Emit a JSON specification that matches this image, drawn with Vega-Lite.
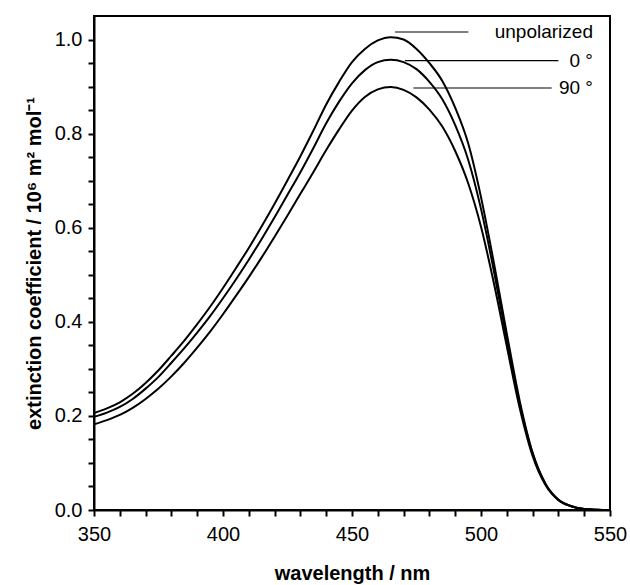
{
  "$schema": "https://vega.github.io/schema/vega-lite/v6.json",
  "width": 516,
  "height": 494,
  "autosize": "none",
  "padding": {"left": 94, "top": 16, "right": 20, "bottom": 75},
  "background": "white",
  "config": {
    "view": {"stroke": "black", "strokeWidth": 2},
    "font": "Liberation Sans",
    "axis": {
      "grid": false,
      "domainColor": "black",
      "domainWidth": 2,
      "tickColor": "black",
      "tickWidth": 2,
      "tickSize": 6,
      "labelColor": "black",
      "labelFont": "Liberation Sans",
      "labelFontSize": 20,
      "labelOverlap": false,
      "labelFlush": false,
      "titleColor": "black",
      "titleFont": "Liberation Sans",
      "titleFontSize": 20,
      "titleFontWeight": "bold"
    }
  },
  "datasets": {
    "curves": [
      {"wl": 350, "e": 0.206, "s": "unpolarized"},
      {"wl": 355, "e": 0.216, "s": "unpolarized"},
      {"wl": 360, "e": 0.229, "s": "unpolarized"},
      {"wl": 365, "e": 0.247, "s": "unpolarized"},
      {"wl": 370, "e": 0.27, "s": "unpolarized"},
      {"wl": 375, "e": 0.297, "s": "unpolarized"},
      {"wl": 380, "e": 0.328, "s": "unpolarized"},
      {"wl": 385, "e": 0.36, "s": "unpolarized"},
      {"wl": 390, "e": 0.395, "s": "unpolarized"},
      {"wl": 395, "e": 0.432, "s": "unpolarized"},
      {"wl": 400, "e": 0.472, "s": "unpolarized"},
      {"wl": 405, "e": 0.514, "s": "unpolarized"},
      {"wl": 410, "e": 0.557, "s": "unpolarized"},
      {"wl": 415, "e": 0.603, "s": "unpolarized"},
      {"wl": 420, "e": 0.651, "s": "unpolarized"},
      {"wl": 425, "e": 0.701, "s": "unpolarized"},
      {"wl": 430, "e": 0.752, "s": "unpolarized"},
      {"wl": 435, "e": 0.806, "s": "unpolarized"},
      {"wl": 440, "e": 0.862, "s": "unpolarized"},
      {"wl": 445, "e": 0.91, "s": "unpolarized"},
      {"wl": 450, "e": 0.952, "s": "unpolarized"},
      {"wl": 455, "e": 0.98, "s": "unpolarized"},
      {"wl": 460, "e": 0.998, "s": "unpolarized"},
      {"wl": 465, "e": 1.005, "s": "unpolarized"},
      {"wl": 470, "e": 1.0, "s": "unpolarized"},
      {"wl": 475, "e": 0.98, "s": "unpolarized"},
      {"wl": 480, "e": 0.95, "s": "unpolarized"},
      {"wl": 485, "e": 0.912, "s": "unpolarized"},
      {"wl": 490, "e": 0.855, "s": "unpolarized"},
      {"wl": 495, "e": 0.78, "s": "unpolarized"},
      {"wl": 500, "e": 0.665, "s": "unpolarized"},
      {"wl": 505, "e": 0.525, "s": "unpolarized"},
      {"wl": 510, "e": 0.375, "s": "unpolarized"},
      {"wl": 515, "e": 0.232, "s": "unpolarized"},
      {"wl": 520, "e": 0.122, "s": "unpolarized"},
      {"wl": 525, "e": 0.056, "s": "unpolarized"},
      {"wl": 530, "e": 0.022, "s": "unpolarized"},
      {"wl": 535, "e": 0.008, "s": "unpolarized"},
      {"wl": 540, "e": 0.002, "s": "unpolarized"},
      {"wl": 545, "e": 0.0005, "s": "unpolarized"},
      {"wl": 550, "e": 0.0, "s": "unpolarized"},
      {"wl": 350, "e": 0.198, "s": "0"},
      {"wl": 355, "e": 0.207, "s": "0"},
      {"wl": 360, "e": 0.219, "s": "0"},
      {"wl": 365, "e": 0.236, "s": "0"},
      {"wl": 370, "e": 0.258, "s": "0"},
      {"wl": 375, "e": 0.283, "s": "0"},
      {"wl": 380, "e": 0.313, "s": "0"},
      {"wl": 385, "e": 0.344, "s": "0"},
      {"wl": 390, "e": 0.377, "s": "0"},
      {"wl": 395, "e": 0.412, "s": "0"},
      {"wl": 400, "e": 0.45, "s": "0"},
      {"wl": 405, "e": 0.49, "s": "0"},
      {"wl": 410, "e": 0.532, "s": "0"},
      {"wl": 415, "e": 0.576, "s": "0"},
      {"wl": 420, "e": 0.622, "s": "0"},
      {"wl": 425, "e": 0.67, "s": "0"},
      {"wl": 430, "e": 0.718, "s": "0"},
      {"wl": 435, "e": 0.769, "s": "0"},
      {"wl": 440, "e": 0.822, "s": "0"},
      {"wl": 445, "e": 0.868, "s": "0"},
      {"wl": 450, "e": 0.907, "s": "0"},
      {"wl": 455, "e": 0.935, "s": "0"},
      {"wl": 460, "e": 0.952, "s": "0"},
      {"wl": 465, "e": 0.957, "s": "0"},
      {"wl": 470, "e": 0.952, "s": "0"},
      {"wl": 475, "e": 0.937, "s": "0"},
      {"wl": 480, "e": 0.91, "s": "0"},
      {"wl": 485, "e": 0.873, "s": "0"},
      {"wl": 490, "e": 0.818, "s": "0"},
      {"wl": 495, "e": 0.745, "s": "0"},
      {"wl": 500, "e": 0.64, "s": "0"},
      {"wl": 505, "e": 0.508, "s": "0"},
      {"wl": 510, "e": 0.362, "s": "0"},
      {"wl": 515, "e": 0.225, "s": "0"},
      {"wl": 520, "e": 0.12, "s": "0"},
      {"wl": 525, "e": 0.055, "s": "0"},
      {"wl": 530, "e": 0.022, "s": "0"},
      {"wl": 535, "e": 0.008, "s": "0"},
      {"wl": 540, "e": 0.002, "s": "0"},
      {"wl": 545, "e": 0.0005, "s": "0"},
      {"wl": 550, "e": 0.0, "s": "0"},
      {"wl": 350, "e": 0.182, "s": "90"},
      {"wl": 355, "e": 0.191, "s": "90"},
      {"wl": 360, "e": 0.202, "s": "90"},
      {"wl": 365, "e": 0.217, "s": "90"},
      {"wl": 370, "e": 0.236, "s": "90"},
      {"wl": 375, "e": 0.258, "s": "90"},
      {"wl": 380, "e": 0.284, "s": "90"},
      {"wl": 385, "e": 0.313, "s": "90"},
      {"wl": 390, "e": 0.345, "s": "90"},
      {"wl": 395, "e": 0.379, "s": "90"},
      {"wl": 400, "e": 0.416, "s": "90"},
      {"wl": 405, "e": 0.455, "s": "90"},
      {"wl": 410, "e": 0.495, "s": "90"},
      {"wl": 415, "e": 0.537, "s": "90"},
      {"wl": 420, "e": 0.581, "s": "90"},
      {"wl": 425, "e": 0.626, "s": "90"},
      {"wl": 430, "e": 0.672, "s": "90"},
      {"wl": 435, "e": 0.718, "s": "90"},
      {"wl": 440, "e": 0.765, "s": "90"},
      {"wl": 445, "e": 0.809, "s": "90"},
      {"wl": 450, "e": 0.849, "s": "90"},
      {"wl": 455, "e": 0.878, "s": "90"},
      {"wl": 460, "e": 0.894, "s": "90"},
      {"wl": 465, "e": 0.899, "s": "90"},
      {"wl": 470, "e": 0.893, "s": "90"},
      {"wl": 475, "e": 0.877, "s": "90"},
      {"wl": 480, "e": 0.851, "s": "90"},
      {"wl": 485, "e": 0.815, "s": "90"},
      {"wl": 490, "e": 0.763, "s": "90"},
      {"wl": 495, "e": 0.695, "s": "90"},
      {"wl": 500, "e": 0.602, "s": "90"},
      {"wl": 505, "e": 0.482, "s": "90"},
      {"wl": 510, "e": 0.348, "s": "90"},
      {"wl": 515, "e": 0.217, "s": "90"},
      {"wl": 520, "e": 0.115, "s": "90"},
      {"wl": 525, "e": 0.053, "s": "90"},
      {"wl": 530, "e": 0.021, "s": "90"},
      {"wl": 535, "e": 0.008, "s": "90"},
      {"wl": 540, "e": 0.002, "s": "90"},
      {"wl": 545, "e": 0.0005, "s": "90"},
      {"wl": 550, "e": 0.0, "s": "90"}
    ],
    "labels": [
      {"label": "unpolarized", "start": 466.7, "end": 495.1, "level": 1.016, "anchor": 543.4},
      {"label": "0 °", "start": 470.5, "end": 530.0, "level": 0.955, "anchor": 543.4},
      {"label": "90 °", "start": 473.8, "end": 527.4, "level": 0.897, "anchor": 543.4}
    ]
  },
  "layer": [
    {
      "data": {"name": "curves"},
      "mark": {"type": "line", "color": "black", "strokeWidth": 2, "interpolate": "monotone", "clip": true},
      "encoding": {
        "x": {
          "field": "wl", "type": "quantitative",
          "scale": {"domain": [350, 550], "nice": false},
          "axis": {
            "values": [350, 360, 370, 380, 390, 400, 410, 420, 430, 440, 450, 460, 470, 480, 490, 500, 510, 520, 530, 540, 550],
            "tickCount": 40,
            "labelExpr": "datum.value % 50 === 0 ? datum.label : ''",
            "labelOverlap": false,
            "labelFlush": false,
            "labelBound": false,
            "labelPadding": 8,
            "title": "wavelength / nm",
            "titlePadding": 19
          }
        },
        "y": {
          "field": "e", "type": "quantitative",
          "scale": {"domain": [0, 1.05], "nice": false, "zero": true},
          "axis": {
            "values": [0, 0.05, 0.1, 0.15, 0.2, 0.25, 0.3, 0.35, 0.4, 0.45, 0.5, 0.55, 0.6, 0.65, 0.7, 0.75, 0.8, 0.85, 0.9, 0.95, 1.0],
            "tickCount": 40,
            "labelExpr": "round(datum.value * 20) % 4 === 0 ? format(datum.value, '.1f') : ''",
            "labelOverlap": false,
            "labelPadding": 6,
            "title": "extinction coefficient / 10⁶ m² mol⁻¹",
            "titlePadding": 10
          }
        },
        "detail": {"field": "s"}
      }
    },
    {
      "data": {"name": "labels"},
      "mark": {"type": "rule", "color": "black", "strokeWidth": 1.2},
      "encoding": {
        "x": {"field": "start", "type": "quantitative"},
        "x2": {"field": "end"},
        "y": {"field": "level", "type": "quantitative"}
      }
    },
    {
      "data": {"name": "labels"},
      "mark": {"type": "text", "align": "right", "baseline": "middle", "fontSize": 19, "font": "Liberation Sans", "color": "black"},
      "encoding": {
        "x": {"field": "anchor", "type": "quantitative"},
        "y": {"field": "level", "type": "quantitative"},
        "text": {"field": "label"}
      }
    }
  ]
}
